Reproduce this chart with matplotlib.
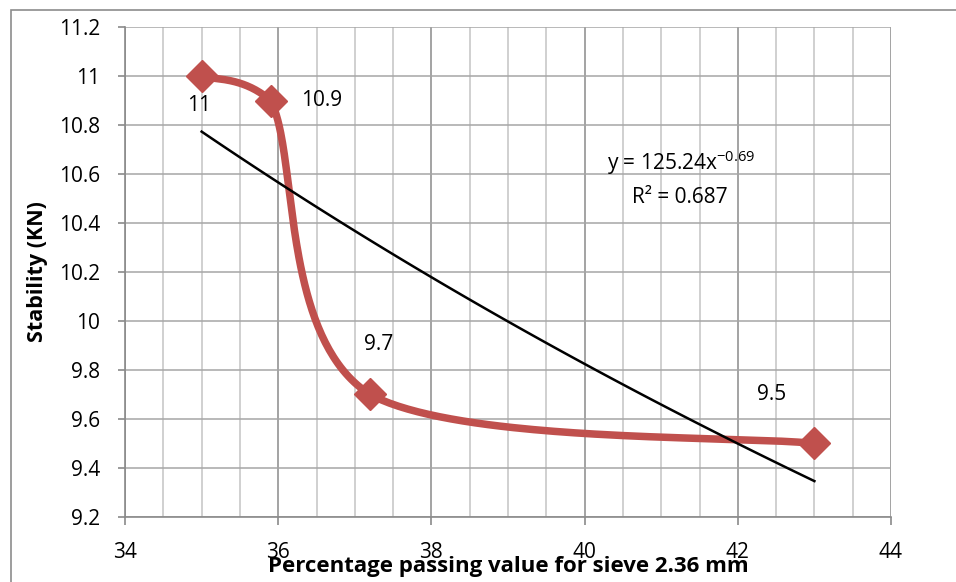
import matplotlib
matplotlib.use('Agg')
import matplotlib.pyplot as plt
from matplotlib.patches import Rectangle
from matplotlib.ticker import MultipleLocator
import numpy as np

# data
passing = [35.0, 35.9, 37.2, 43.0]
stability = [11.0, 10.9, 9.7, 9.5]
point_labels = ['11', '10.9', '9.7', '9.5']
fit_a = 125.24
fit_b = -0.69
r2 = 0.687

plt.rcParams['font.family'] = ['Open Sans', 'DejaVu Sans']
plt.rcParams['mathtext.fontset'] = 'custom'
plt.rcParams['mathtext.rm'] = 'Open Sans'

RED = '#C0504D'


def excel_smooth(xs, ys, sx, sy, n=80):
    # bezier smoothing like Excel, done in scaled (screen-like) space
    px = np.array(xs) * sx
    py = np.array(ys) * sy
    P = np.column_stack([px, py])
    out = [P[0]]
    for i in range(len(P) - 1):
        p0 = P[i - 1] if i > 0 else P[i]
        p1 = P[i]
        p2 = P[i + 1]
        p3 = P[i + 2] if i + 2 < len(P) else P[i + 1]
        c1 = p1 + (p2 - p0) / 6
        c2 = p2 - (p3 - p1) / 6
        lo, hi = min(p1[1], p2[1]), max(p1[1], p2[1])
        c1[1] = np.clip(c1[1], lo, hi)
        c2[1] = np.clip(c2[1], lo, hi)
        t = np.linspace(0, 1, n)[1:, None]
        seg = ((1 - t) ** 3) * p1 + 3 * ((1 - t) ** 2) * t * c1 + 3 * (1 - t) * t ** 2 * c2 + t ** 3 * p2
        out.extend(seg)
    out = np.array(out)
    return out[:, 0] / sx, out[:, 1] / sy


fig = plt.figure(figsize=(9.56, 5.82), dpi=100)
ax = fig.add_axes([0.1308, 0.1117, 0.8012, 0.8419])

# outer chart border
fig.patches.append(Rectangle((11 / 956, -0.1), 1.2, 1 - 10 / 582 + 0.1, transform=fig.transFigure,
                             fill=False, edgecolor='#8c8c8c', linewidth=1.2))

ax.set_xlim(34, 44)
ax.set_ylim(9.2, 11.2)
ax.xaxis.set_major_locator(MultipleLocator(2))
ax.xaxis.set_minor_locator(MultipleLocator(0.5))
ax.set_yticks(np.arange(9.2, 11.21, 0.2))
ax.set_yticklabels(['9.2', '9.4', '9.6', '9.8', '10', '10.2', '10.4', '10.6', '10.8', '11', '11.2'])

ax.grid(which='major', axis='x', color='#8a8a8a', linewidth=1.1)
ax.grid(which='minor', axis='x', color='#c4c4c4', linewidth=1.1)
ax.grid(which='major', axis='y', color='#a6a6a6', linewidth=1.1)
ax.set_axisbelow(True)

for s in ['top', 'right']:
    ax.spines[s].set_visible(False)
for s in ['left', 'bottom']:
    ax.spines[s].set_color('#8a8a8a')
    ax.spines[s].set_linewidth(1.2)

ax.tick_params(axis='x', which='major', length=6, color='#8a8a8a', width=1.2, pad=12, labelsize=15)
ax.tick_params(axis='x', which='minor', length=0)
ax.tick_params(axis='y', which='major', length=5, color='#8a8a8a', width=1.2, pad=13, labelsize=15)

# scale so the smoothing is done in pixel-like units
sx = 766 / 10
sy = 490 / 2
cx, cy = excel_smooth(passing, stability, sx, sy)
ax.plot(cx, cy, color=RED, linewidth=5.4, solid_capstyle='round', zorder=3)
ax.plot(passing, stability, linestyle='none', marker='D', markersize=16,
        color=RED, markeredgecolor=RED, zorder=4)

# power trendline
tx = np.linspace(min(passing), max(passing), 100)
ax.plot(tx, fit_a * tx ** fit_b, color='black', linewidth=1.8, zorder=5)

offsets = [(-1.5, -21.5), (37, 0), (6, 36), (-31, 35)]
for x, y, lab, off in zip(passing, stability, point_labels, offsets):
    ax.annotate(lab, (x, y), xytext=off, textcoords='offset points',
                ha='center', va='center', fontsize=15)

ax.text(40.29, 10.645, 'y = 125.24x$^{-0.69}$', fontsize=15, ha='left', va='center')
ax.text(40.62, 10.506, 'R² = 0.687', fontsize=15, ha='left', va='center')

ax.set_xlabel('Percentage passing value for sieve 2.36 mm', fontsize=16, fontweight='bold', labelpad=-5)
ax.set_ylabel('Stability (KN)', fontsize=15.5, fontweight='bold', labelpad=8)

fig.savefig('out.png', dpi=100)
